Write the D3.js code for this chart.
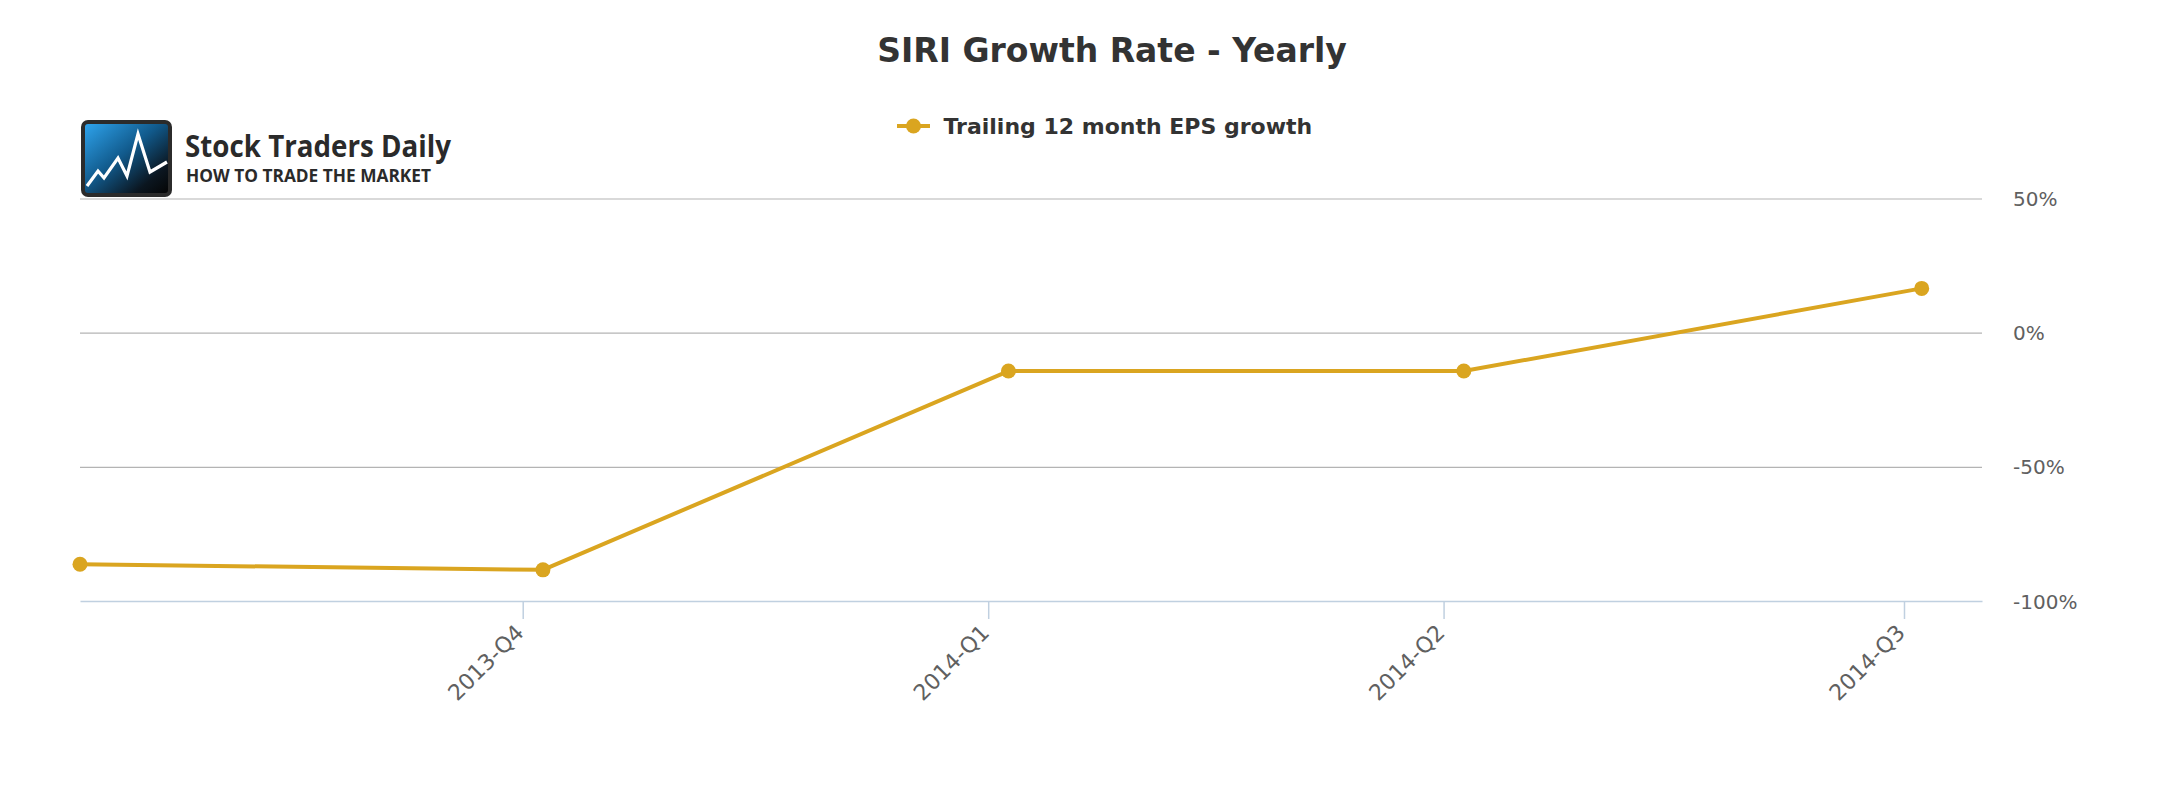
<!DOCTYPE html>
<html>
<head>
<meta charset="utf-8">
<script src="https://cdn.jsdelivr.net/npm/d3@7"></script>
<style>
  html, body { margin: 0; padding: 0; background: #ffffff; }
  svg { display: block; }
</style>
</head>
<body>
<div id="chart"></div>
<script>
// ---------------- data ----------------
const chartTitle = "SIRI Growth Rate - Yearly";
const seriesName = "Trailing 12 month EPS growth";
const pointDates = ["2013-07-05T12:00:00Z", "2013-10-05T00:00:00Z", "2014-01-05T00:00:00Z", "2014-04-05T00:00:00Z", "2014-07-04T12:00:00Z"];
const epsGrowth = [-86.3, -88.4, -14.3, -14.3, 16.5];
const xTickDates = ["2013-10-01T00:00:00Z", "2014-01-01T00:00:00Z", "2014-04-01T00:00:00Z", "2014-07-01T00:00:00Z"];
const xTickLabels = ["2013-Q4", "2014-Q1", "2014-Q2", "2014-Q3"];
const xDomainEnd = "2014-07-16T10:00:00Z";
const yTicks = [-100, -50, 0, 50];
const yTickLabels = ["-100%", "-50%", "0%", "50%"];

// ---------------- layout ----------------
const W = 2182, H = 800;
const plotLeft = 80, plotRight = 1982, plotTop = 198.5, plotBottom = 601;
const lineColor = "#DAA520";

const svg = d3.select("#chart").append("svg").attr("width", W).attr("height", H);

const x = d3.scaleUtc()
  .domain([new Date(pointDates[0]), new Date(xDomainEnd)])
  .range([plotLeft, plotRight]);
const y = d3.scaleLinear().domain([-100, 50]).range([plotBottom, plotTop]);

// gridlines
const grid = svg.append("g").attr("transform", `translate(${plotLeft},0)`)
  .call(d3.axisLeft(y).tickValues(yTicks.filter(v => v !== -100)).tickSize(-(plotRight - plotLeft)).tickFormat(""));
grid.select(".domain").remove();
grid.selectAll("line").attr("stroke", "#B4B4B4").attr("stroke-width", 1.2);

// y labels
const yAx = svg.append("g").attr("transform", `translate(2013,0)`)
  .call(d3.axisRight(y).tickValues(yTicks).tickSize(0).tickPadding(0)
    .tickFormat((d, i) => yTickLabels[yTicks.indexOf(d)]));
yAx.select(".domain").remove();
yAx.selectAll("text")
  .attr("x", 0).attr("dy", "0.35em")
  .attr("fill", "#606060")
  .style("font-family", "'DejaVu Sans', sans-serif")
  .style("font-size", "20px");

// x axis
const xAx = svg.append("g").attr("transform", `translate(0,${plotBottom})`)
  .call(d3.axisBottom(x).tickValues(xTickDates.map(d => new Date(d))).tickSize(18)
    .tickSizeOuter(0)
    .tickFormat((d, i) => xTickLabels[i]));
xAx.select(".domain").attr("stroke", "#C0D0E0").attr("stroke-width", 1.5);
xAx.selectAll(".tick line").attr("stroke", "#C0D0E0").attr("stroke-width", 1.5);
xAx.selectAll(".tick text")
  .attr("x", 0).attr("y", 0).attr("dy", 0)
  .attr("transform", "translate(2,33) rotate(-45)")
  .attr("text-anchor", "end")
  .attr("fill", "#606060")
  .style("font-family", "'DejaVu Sans', sans-serif")
  .style("font-size", "22px");

// series
const pts = pointDates.map((d, i) => ({ date: new Date(d), v: epsGrowth[i] }));
svg.append("path")
  .datum(pts)
  .attr("fill", "none")
  .attr("stroke", lineColor)
  .attr("stroke-width", 4)
  .attr("stroke-linejoin", "round")
  .attr("stroke-linecap", "round")
  .attr("d", d3.line().x(d => x(d.date)).y(d => y(d.v)));
svg.append("g").selectAll("circle").data(pts).join("circle")
  .attr("cx", d => x(d.date)).attr("cy", d => y(d.v)).attr("r", 7.5)
  .attr("fill", lineColor);

// title
svg.append("text")
  .attr("x", 1112).attr("y", 61.5)
  .attr("text-anchor", "middle")
  .attr("fill", "#333333")
  .style("font-family", "'DejaVu Sans', sans-serif")
  .style("font-weight", "bold")
  .style("font-size", "33px")
  .text(chartTitle);

// legend
const lg = svg.append("g");
lg.append("line").attr("x1", 897).attr("x2", 930).attr("y1", 126).attr("y2", 126)
  .attr("stroke", lineColor).attr("stroke-width", 4);
lg.append("circle").attr("cx", 913.5).attr("cy", 126).attr("r", 7.5).attr("fill", lineColor);
lg.append("text").attr("x", 943.5).attr("y", 134)
  .attr("fill", "#333333")
  .style("font-family", "'DejaVu Sans', sans-serif")
  .style("font-weight", "bold")
  .style("font-size", "22px")
  .text(seriesName);

// logo
const defs = svg.append("defs");
const grad = defs.append("linearGradient").attr("id", "logoGrad")
  .attr("x1", "0").attr("y1", "0").attr("x2", "1").attr("y2", "1");
grad.append("stop").attr("offset", "0%").attr("stop-color", "#2ea3ec");
grad.append("stop").attr("offset", "45%").attr("stop-color", "#115a8c");
grad.append("stop").attr("offset", "80%").attr("stop-color", "#0b1620");
grad.append("stop").attr("offset", "100%").attr("stop-color", "#050505");
const logo = svg.append("g").attr("transform", "translate(81,120)");
logo.append("rect").attr("x", 0).attr("y", 0).attr("width", 91).attr("height", 77)
  .attr("rx", 7).attr("fill", "#2b2b2b");
logo.append("rect").attr("x", 4).attr("y", 4).attr("width", 83).attr("height", 69)
  .attr("rx", 3).attr("fill", "url(#logoGrad)");
const zig = [[6, 66], [17, 51], [23, 58], [37, 38], [46, 56], [57, 14], [69, 52], [86, 42]];
logo.append("polyline").attr("points", zig.map(p => p.join(",")).join(" "))
  .attr("fill", "none").attr("stroke", "#ffffff").attr("stroke-width", 3.2)
  .attr("stroke-linejoin", "miter");
svg.append("text").attr("x", 185).attr("y", 157)
  .attr("fill", "#2a2a2a")
  .attr("textLength", 266).attr("lengthAdjust", "spacingAndGlyphs")
  .style("font-family", "'Open Sans', sans-serif")
  .style("font-weight", "700")
  .style("font-size", "30px")
  .text("Stock Traders Daily");
svg.append("text").attr("x", 186).attr("y", 182)
  .attr("fill", "#2a2a2a")
  .attr("textLength", 245).attr("lengthAdjust", "spacingAndGlyphs")
  .style("font-family", "'Open Sans', sans-serif")
  .style("font-weight", "700")
  .style("font-size", "17px")
  .text("HOW TO TRADE THE MARKET");
</script>
</body>
</html>
